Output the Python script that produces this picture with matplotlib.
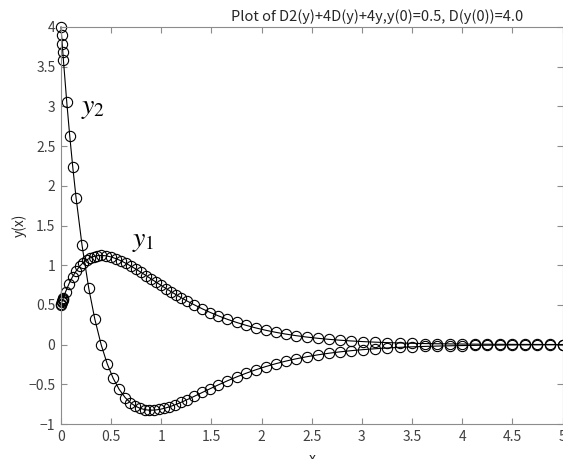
import matplotlib
matplotlib.use("Agg")
import matplotlib.pyplot as plt
from matplotlib.ticker import FuncFormatter

# y1 = y(x), y2 = D(y)(x), punkte wie im original (schrittweite variabel)
x1 = [0, 0.004, 0.008, 0.012, 0.016, 0.020, 0.024, 0.045, 0.08, 0.115, 0.15,
      0.185, 0.22, 0.255, 0.29, 0.325, 0.36, 0.40, 0.45, 0.50, 0.55, 0.60,
      0.65, 0.70, 0.75, 0.80, 0.85, 0.90, 0.95, 1.00, 1.05, 1.10, 1.15]
y1 = [0.5, 0.5159, 0.5314, 0.5467, 0.5617, 0.5765, 0.5909, 0.6626, 0.7669,
      0.8541, 0.9260, 0.9843, 1.0305, 1.0659, 1.0918, 1.1094, 1.1195, 1.1233,
      1.1181, 1.1036, 1.0818, 1.0542, 1.0220, 0.9864, 0.9483, 0.9086, 0.8677,
      0.8265, 0.7852, 0.7444, 0.7041, 0.6648, 0.6266]

x2 = [0, 0.006, 0.012, 0.018, 0.024, 0.057, 0.087, 0.117, 0.15, 0.21, 0.277,
      0.337, 0.40, 0.46, 0.52, 0.58, 0.64, 0.69, 0.74, 0.79, 0.84, 0.88, 0.93,
      0.98, 1.03, 1.08, 1.14]
y2 = [4.0, 3.8930, 3.7880, 3.6849, 3.5838, 3.0604, 2.6301, 2.2395, 1.8521,
      1.2484, 0.7068, 0.3211, 0.0, -0.2391, -0.4241, -0.5643, -0.6673, -0.7296,
      -0.7740, -0.8033, -0.8200, -0.8258, -0.8251, -0.8170, -0.8029, -0.7842,
      -0.7569]

# gemeinsamer rest ab x=1.2
x_tail = [1.20, 1.26, 1.33, 1.41, 1.49, 1.57, 1.66, 1.75, 1.84, 1.94, 2.04,
          2.14, 2.24, 2.34, 2.45, 2.56, 2.67, 2.78, 2.89, 3.01, 3.13, 3.25,
          3.375, 3.5, 3.625, 3.75, 3.875, 4.0, 4.125, 4.25, 4.375, 4.5, 4.625,
          4.75, 4.875, 5.0]
y1_tail = [0.5897, 0.5471, 0.5001, 0.4500, 0.4038, 0.3614, 0.3181, 0.2793,
           0.2447, 0.2106, 0.1809, 0.1550, 0.1326, 0.1132, 0.0949, 0.0795,
           0.0664, 0.0554, 0.0462, 0.0378, 0.0309, 0.0252, 0.0203, 0.0164,
           0.0132, 0.0106, 0.0086, 0.0069, 0.0055, 0.0044, 0.0035, 0.0028,
           0.0023, 0.0018, 0.0015, 0.0012]
y2_tail = [-0.7257, -0.6920, -0.6505, -0.6020, -0.5536, -0.5064, -0.4555,
           -0.4077, -0.3632, -0.3180, -0.2773, -0.2409, -0.2085, -0.1800,
           -0.1527, -0.1291, -0.1089, -0.0916, -0.0769, -0.0634, -0.0522,
           -0.0428, -0.0348, -0.0283, -0.0229, -0.0185, -0.0150, -0.0121,
           -0.0097, -0.0078, -0.0063, -0.0050, -0.0041, -0.0033, -0.0026,
           -0.0021]

TITLE = "Plot of D2(y)+4D(y)+4y,y(0)=0.5, D(y(0))=4.0"
XTICKS = [0, 0.5, 1, 1.5, 2, 2.5, 3, 3.5, 4, 4.5, 5]
YTICKS = [-1, -0.5, 0, 0.5, 1, 1.5, 2, 2.5, 3, 3.5, 4]

plt.rcParams['font.family'] = ['Noto Sans CJK JP', 'DejaVu Sans']
plt.rcParams['mathtext.fontset'] = 'stix'
plt.rcParams['axes.unicode_minus'] = True

fig = plt.figure(figsize=(5.63, 4.59), dpi=100)
ax = fig.add_axes([61 / 563, 35 / 459, 501.5 / 563, 397 / 459])

kw = dict(color="black", lw=0.8, marker="o", ms=7.4, mfc="none",
          mec="black", mew=0.8, clip_on=False)
ax.plot(x1 + x_tail, y1 + y1_tail, **kw)
ax.plot(x2 + x_tail, y2 + y2_tail, **kw)

ax.set_xlim(0, 5)
ax.set_ylim(-1, 4)
ax.set_xticks(XTICKS)
ax.set_yticks(YTICKS)
fmt = FuncFormatter(lambda v, p: ("%g" % v).replace("-", "\u2212"))
ax.xaxis.set_major_formatter(fmt)
ax.yaxis.set_major_formatter(fmt)

for s in ax.spines.values():
    s.set_color("#8c8c8c")
    s.set_linewidth(0.8)
ax.tick_params(direction="in", top=True, right=True, length=4,
               width=0.8, color="#8c8c8c", labelcolor="#404040",
               labelsize=10, pad=4)

ax.set_title(TITLE, fontsize=10.5, color="#262626", pad=4, x=0.63)
ax.set_xlabel("x", fontsize=10, color="#262626", labelpad=6)
ax.set_ylabel("y(x)", fontsize=10, color="#262626", labelpad=1)

ax.text(0.2, 2.92, r"$y_2$", fontsize=20, color="black")
ax.text(0.71, 1.24, r"$y_1$", fontsize=20, color="black")

fig.savefig("out.png", dpi=100)
